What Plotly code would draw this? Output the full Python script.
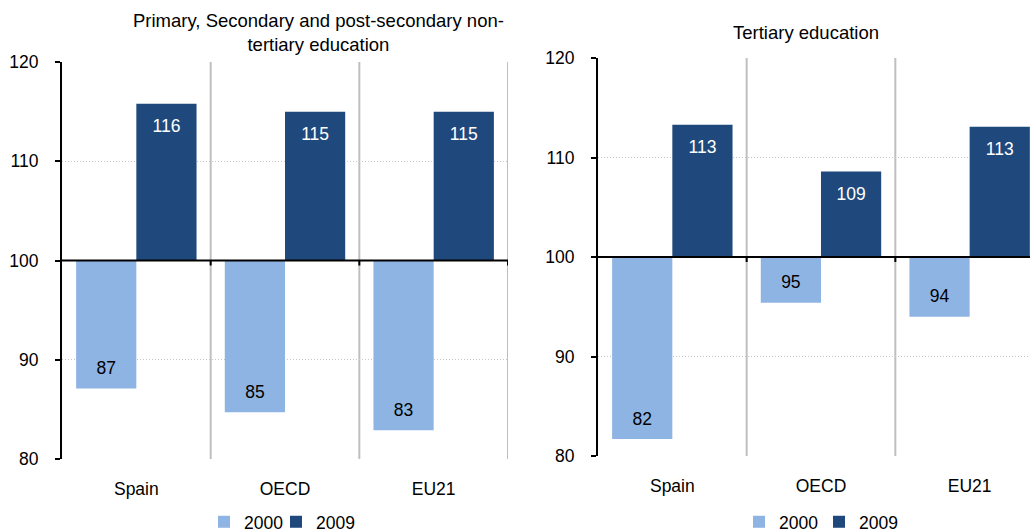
import plotly.graph_objects as go

categories = ["Spain", "OECD", "EU21"]
years = ["2000", "2009"]
prim_2000 = [87.1, 84.7, 82.9]
prim_2009 = [115.8, 115.0, 115.0]
tert_2000 = [81.7, 95.4, 94.0]
tert_2009 = [113.3, 108.6, 113.1]
yticks = [80, 90, 100, 110, 120]
titles = ["Primary, Secondary and post-secondary non-<br>tertiary education", "Tertiary education"]

C2000 = "#8EB4E3"
C2009 = "#1F497D"
FONT = "Liberation Sans, Arial, sans-serif"
BASE = 100
FS = 17.5
W, H = 1030, 532

fig = go.Figure()

panels = [
    (prim_2000, prim_2009, "x", "y", ["legend", "legend2"]),
    (tert_2000, tert_2009, "x2", "y2", ["legend3", "legend4"]),
]
for v00, v09, xa, ya, lgs in panels:
    for (name, vals, col), lg in zip([(years[0], v00, C2000), (years[1], v09, C2009)], lgs):
        fig.add_trace(go.Bar(
            x=categories, y=[v - BASE for v in vals], base=BASE, name=name,
            marker=dict(color=col, line=dict(width=0)),
            xaxis=xa, yaxis=ya, legend=lg, offsetgroup=name,
            hoverinfo="skip",
        ))
    fig.add_trace(go.Scatter(
        x=categories, y=[v + 1.9 for v in v00], mode="text",
        text=[f"{round(v):d}" for v in v00], textfont=dict(color="black", size=FS, family=FONT),
        xaxis=xa, yaxis=ya, showlegend=False, hoverinfo="skip",
        offsetgroup=years[0],
    ))
    fig.add_trace(go.Scatter(
        x=categories, y=[v - 2.4 for v in v09], mode="text",
        text=[f"{round(v):d}" for v in v09], textfont=dict(color="white", size=FS, family=FONT),
        xaxis=xa, yaxis=ya, showlegend=False, hoverinfo="skip",
        offsetgroup=years[1],
    ))

legend_square_left = {"legend": 218, "legend2": 290, "legend3": 753, "legend4": 833}
legends = {
    k: dict(orientation="h", x=(v - 14) / W, y=0.019, xanchor="left", yanchor="middle",
            font=dict(size=FS), itemwidth=30, bgcolor="rgba(0,0,0,0)")
    for k, v in legend_square_left.items()
}

fig.update_layout(
    width=W, height=H,
    margin=dict(l=0, r=0, t=0, b=0, autoexpand=False),
    plot_bgcolor="white", paper_bgcolor="white",
    font=dict(family=FONT, size=FS, color="black"),
    barmode="group", bargap=0.19, bargroupgap=0,
    scattermode="group",
    showlegend=True,
    **legends,
)

axis_common_y = dict(
    range=[80, 120], tickvals=yticks, showline=True, linecolor="black", linewidth=2,
    ticks="outside", ticklen=5, tickwidth=2, tickcolor="black",
    showgrid=True, gridcolor="#C8C8C8", griddash="1px,2px", gridwidth=1,
    zeroline=False, ticklabelstandoff=13, tickfont=dict(size=FS), automargin=False,
)
axis_common_x = dict(
    type="category", showline=False, showgrid=False, zeroline=False,
    ticks="outside", ticklen=14, tickcolor="rgba(0,0,0,0)", tickfont=dict(size=FS),
    automargin=False,
)

fig.update_layout(
    xaxis=dict(domain=[62 / W, 508 / W], range=[-0.5, 2.5], anchor="y", **axis_common_x),
    yaxis=dict(domain=[(H - 459) / H, (H - 62) / H], anchor="x", **axis_common_y),
    xaxis2=dict(domain=[598 / W, 1.0], range=[-0.5, 2.406], anchor="y2", **axis_common_x),
    yaxis2=dict(domain=[(H - 456) / H, (H - 58) / H], anchor="x2", **axis_common_y),
)

shapes = []
for xr, yr in [("x", "y"), ("x2", "y2")]:
    for b in [0.5, 1.5, 2.5]:
        shapes.append(dict(type="line", xref=xr, yref=yr, x0=b, x1=b, y0=80, y1=120,
                           line=dict(color="#BFBFBF", width=2), layer="below"))
        shapes.append(dict(type="line", xref=xr, yref=yr, x0=b, x1=b, ysizemode="pixel",
                           yanchor=BASE, y0=0, y1=-5, line=dict(color="black", width=2)))
    shapes.append(dict(type="line", xref=f"{xr} domain", yref=yr, x0=0, x1=1, y0=BASE, y1=BASE,
                       line=dict(color="black", width=2), layer="above"))
fig.update_layout(shapes=shapes)

fig.add_annotation(text=titles[0], xref="paper", yref="paper", x=318 / W, y=(H - 33) / H,
                   xanchor="center", yanchor="middle", showarrow=False, font=dict(size=18.5))
fig.add_annotation(text=titles[1], xref="paper", yref="paper", x=806 / W, y=(H - 33) / H,
                   xanchor="center", yanchor="middle", showarrow=False, font=dict(size=18.5))

fig.write_html(
    "out.html",
    config={"displayModeBar": False},
    post_script="document.body.style.margin='0px';document.body.style.overflow='hidden';",
)
